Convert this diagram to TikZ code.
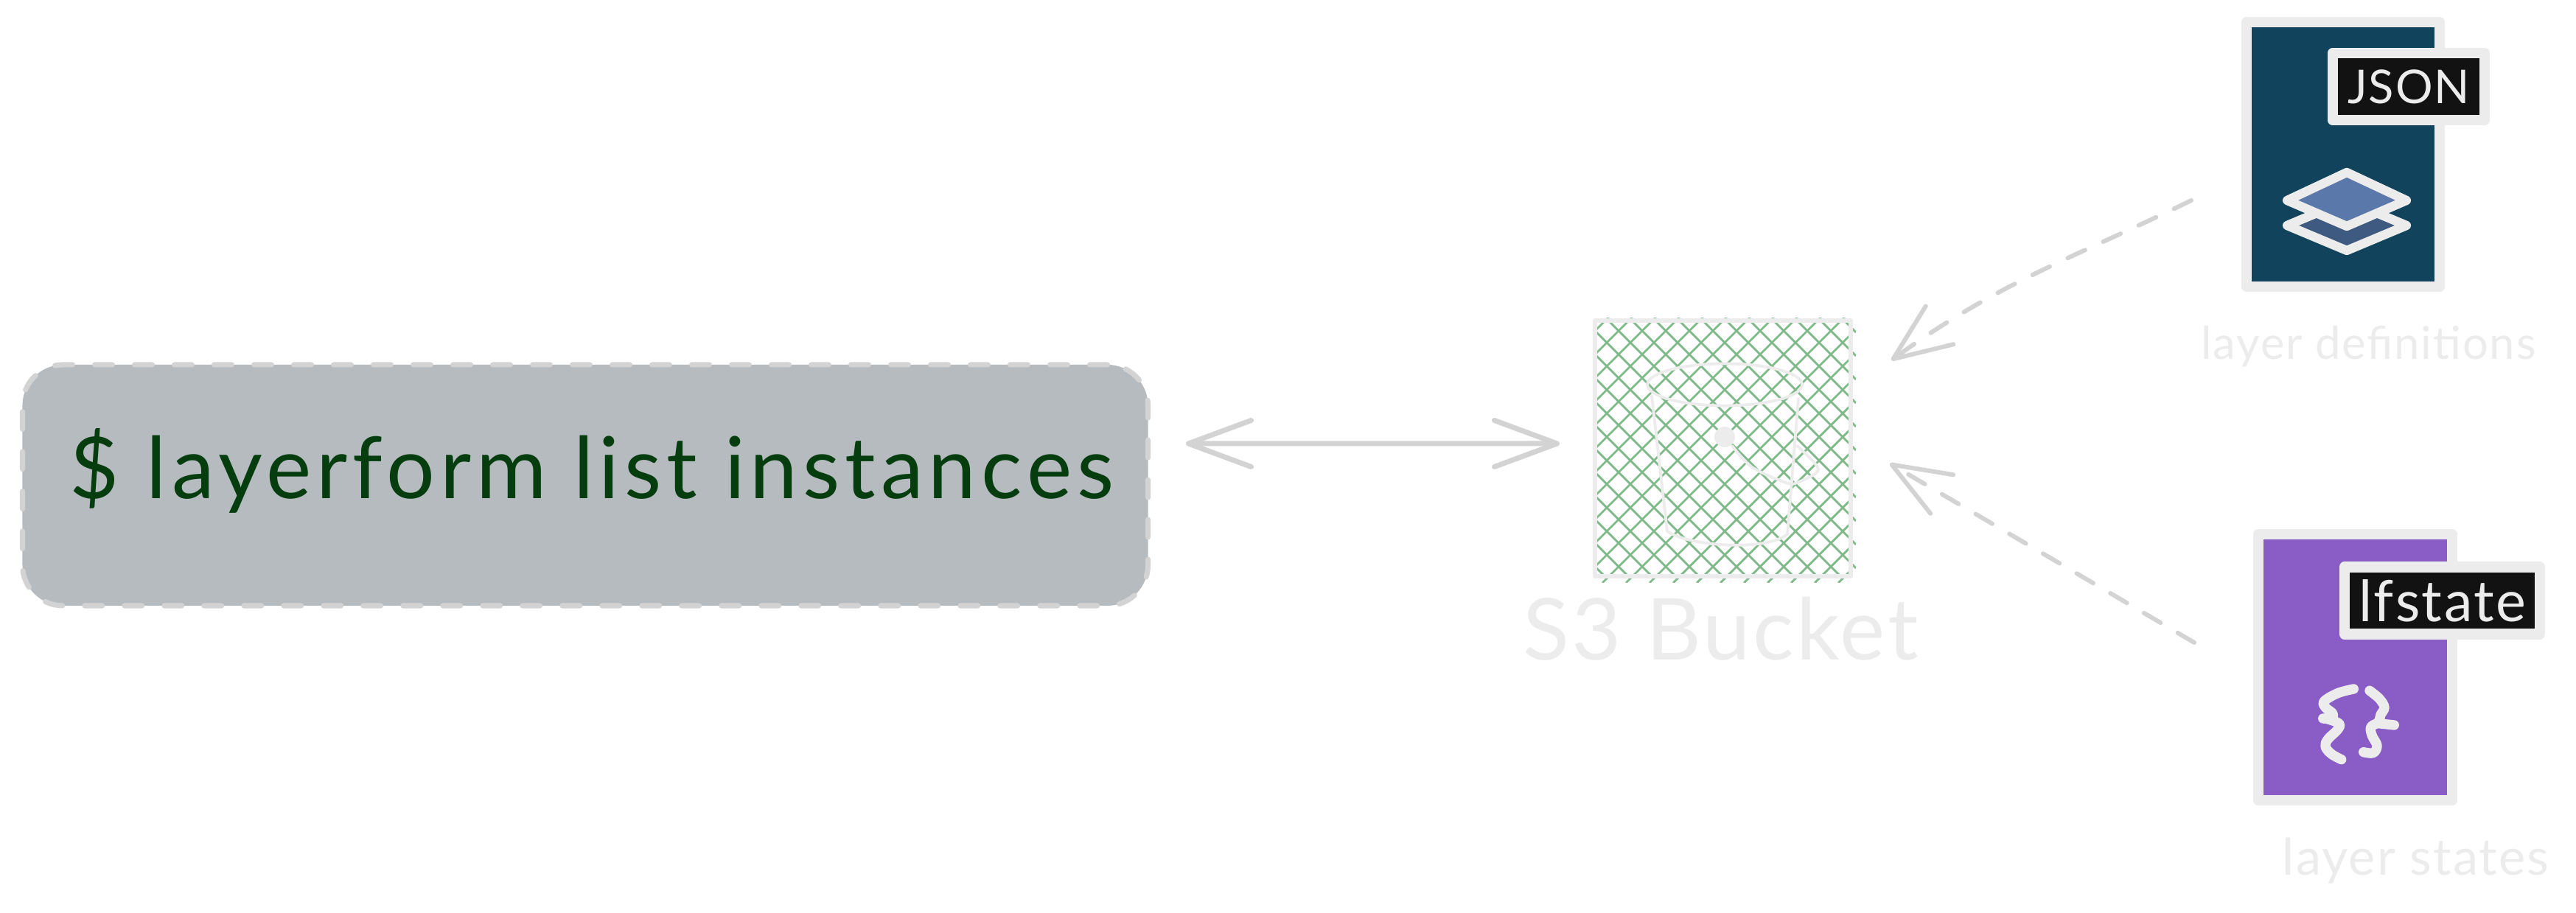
\documentclass[tikz,border=0pt]{standalone}
\usepackage{fontspec}
\usepackage{xcolor}
\usepackage{tikz}
\usetikzlibrary{arrows.meta}
\setmainfont{Lato}
\newfontfamily\spacedfont[LetterSpace=3]{Lato}
\newfontfamily\widefont[LetterSpace=6]{Lato}
\definecolor{faint}{HTML}{ECECEC}
\definecolor{wire}{HTML}{D3D3D3}
\definecolor{cmdfill}{HTML}{B6BBBF}
\definecolor{cmdtext}{HTML}{063D0E}
\definecolor{hatch}{HTML}{7FB98A}
\definecolor{jsonblue}{HTML}{12435C}
\definecolor{statepurple}{HTML}{8A5CC6}
\definecolor{tagblack}{HTML}{121212}
\definecolor{layertop}{HTML}{5A78A9}
\definecolor{layerlow}{HTML}{3F5A80}
\tikzset{
  filebox/.style={draw=faint, line width=4.2pt, line join=round, inner sep=0, outer sep=0},
  tagbox/.style={filebox, fill=tagblack, text=faint, font=\spacedfont\fontsize{18}{20}\selectfont},
  paleline/.style={draw=faint, line width=1.1pt, line cap=round, line join=round},
  hatchline/.style={draw=hatch, line width=0.8pt},
  iconline/.style={draw=faint, line width=3.5pt, line cap=round, line join=round},
  dashconn/.style={draw=wire, line width=1.7pt, line cap=round, dash pattern=on 2.6mm off 2.7mm},
  paletext/.style={text=faint, anchor=base, inner sep=0},
}
\begin{document}
\begin{tikzpicture}
  \useasboundingbox (0,0) rectangle (34.95,12.39);

  % Command box
  \node[draw=wire, fill=cmdfill, line width=2pt, line cap=round, rounded corners=5.5mm,
    dash pattern=on 2.4mm off 3mm, minimum width=15.27cm, minimum height=3.27cm, outer sep=0]
    (cmd) at (7.94,5.805) {};
  \node[text=cmdtext, anchor=base, inner sep=0, font=\widefont\fontsize{33}{36}\selectfont]
    (cmdlabel) at (8.03,5.62) {\$ layerform list instances};

  % S3 bucket
  \begin{scope}
    \clip (21.64,4.48) rectangle (25.11,8.07);
    \foreach \k in {-12,...,10}
      \draw[hatchline] (21.74+0.32*\k,4.48) -- ++(3.8,3.8);
  \end{scope}
  \begin{scope}
    \clip (21.64,4.57) rectangle (25.18,8.04);
    \foreach \k in {0,...,23}
      \draw[hatchline] (25.18,7.88-0.32*\k) -- ++(-3.8,3.8);
  \end{scope}
  \node[draw=faint, line width=1.6pt, line join=round, minimum size=3.47cm, inner sep=0, outer sep=0]
    (bucket) at (23.375,6.305) {};
  \draw[paleline] (23.40,7.17) ellipse (1.05 and 0.285);
  \draw[paleline] (22.41,7.02) -- (22.62,5.18) .. controls (22.9,4.98) and (23.95,4.9) .. (24.25,5.14) -- (24.40,6.98);
  \fill[faint] (23.40,6.46) circle (0.14);
  \draw[paleline] plot[smooth] coordinates {(23.50,6.34) (23.77,6.05) (24.23,5.84) (24.38,5.84) (24.67,6.02) (24.38,6.34)};
  \node[paletext, font=\spacedfont\fontsize{33}{36}\selectfont] (bucketname) at (23.345,3.43) {S3 Bucket};

  % Layer definitions
  \node[filebox, fill=jsonblue, minimum width=2.62cm, minimum height=3.59cm] (jsonfile) at (31.79,10.295) {};
  \node[tagbox, minimum width=2.06cm, minimum height=0.91cm] (jsontag) at (32.68,11.215) {JSON};
  \draw[iconline, fill=layerlow] (31.03,9.33) -- (31.84,8.99) -- (32.65,9.33) -- (31.84,9.67) -- cycle;
  \draw[iconline, fill=layertop] (31.03,9.67) -- (31.84,9.32) -- (32.65,9.67) -- (31.84,10.05) -- cycle;
  \node[paletext, font=\spacedfont\fontsize{17.5}{20}\selectfont] (jsonname) at (32.135,7.51) {layer definitions};

  % Layer states
  \node[filebox, fill=statepurple, minimum width=2.63cm, minimum height=3.61cm] (statefile) at (31.955,3.335) {};
  \node[tagbox, minimum width=2.65cm, minimum height=0.91cm, font=\spacedfont\fontsize{22}{24}\selectfont]
    (statetag) at (33.135,4.24) {lfstate};
  \draw[iconline, line width=3.8pt] plot[smooth, tension=0.6] coordinates {(31.933,3.04) (31.717,2.983) (31.533,2.873) (31.55,2.79) (31.65,2.707) (31.633,2.64) (31.517,2.64)};
  \draw[iconline, line width=3.8pt] plot[smooth, tension=0.6] coordinates {(31.55,2.64) (31.733,2.573) (31.717,2.49) (31.583,2.357) (31.55,2.257) (31.633,2.157) (31.767,2.083)};
  \draw[iconline, line width=3.8pt] plot[smooth, tension=0.6] coordinates {(32.15,3.017) (32.283,2.907) (32.35,2.79) (32.30,2.69) (32.267,2.59) (32.167,2.523) (32.183,2.407) (32.25,2.273) (32.20,2.173) (32.067,2.183)};
  \draw[iconline, line width=3.8pt] (32.267,2.573) -- (32.483,2.55);
  \node[paletext, font=\spacedfont\fontsize{19.5}{22}\selectfont] (statename) at (32.775,0.51) {layer states};

  % Connectors
  \draw[draw=wire, line width=2pt, line cap=round, >={Straight Barb[length=8.5mm,width=6.3mm,round]}, <->]
    ([xshift=5.15mm,yshift=5.65mm]cmd.east) -- ([xshift=-4.8mm,yshift=0.65mm]bucket.west);
  \draw[dashconn, -{Straight Barb[length=7.8mm,width=6.4mm,round]}]
    ([xshift=-7.5mm,yshift=-6.25mm]jsonfile.west) to[out=206,in=36] ([xshift=5.5mm,yshift=-5.4mm]bucket.north east);
  \draw[dashconn, -{Straight Barb[length=7.9mm,width=6.1mm,round]}]
    ([xshift=-8.7mm,yshift=3.35mm]statefile.west) -- ([xshift=5.3mm,yshift=-2.05mm]bucket.east);
\end{tikzpicture}
\end{document}
